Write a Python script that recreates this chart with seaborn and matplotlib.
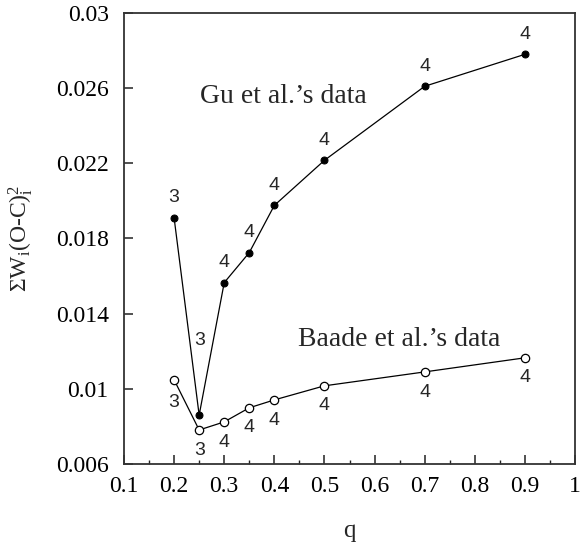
import numpy as np
import matplotlib
matplotlib.use('Agg')
import matplotlib.pyplot as plt
import seaborn as sns
from matplotlib.ticker import MultipleLocator, FuncFormatter

# data
q = [0.2, 0.25, 0.3, 0.35, 0.4, 0.5, 0.7, 0.9]
gu = [0.0191, 0.0086, 0.01565, 0.01725, 0.01976, 0.02216, 0.0261, 0.0278]
baade = [0.01048, 0.00781, 0.00824, 0.00899, 0.00941, 0.01016, 0.0109, 0.01165]
gu_n = ['3', '3', '4', '4', '4', '4', '4', '4']
baade_n = ['3', '3', '4', '4', '4', '4', '4', '4']
yticks = [0.006, 0.01, 0.014, 0.018, 0.022, 0.026, 0.03]

sns.set_style('ticks')
plt.rcParams['font.family'] = ['Liberation Serif', 'DejaVu Serif']
plt.rcParams['mathtext.default'] = 'regular'

fig = plt.figure(figsize=(5.81, 5.46), dpi=100)
ax = fig.add_axes([0.2134, 0.1502, 0.7763, 0.826])

sns.lineplot(x=q, y=gu, ax=ax, color='black', lw=0.9, marker='o',
             markersize=5, markerfacecolor='black', markeredgecolor='black')
sns.lineplot(x=q, y=baade, ax=ax, color='black', lw=0.9, marker='o',
             markersize=6, markerfacecolor='white', markeredgecolor='black',
             markeredgewidth=0.9)

# number labels next to the points
for i, (x, y, n) in enumerate(zip(q, gu, gu_n)):
    if i == 1:
        # this one sits between the two lines
        ax.text(x, 0.01256, n, ha='center', va='center', fontsize=14,
                family='Liberation Sans')
        continue
    ax.annotate(n, (x, y), xytext=(0, 14.5), textcoords='offset points',
                ha='center', va='center', fontsize=14, family='Liberation Sans')
for i, (x, y, n) in enumerate(zip(q, baade, baade_n)):
    dy = -16.5 if i == 0 else -14.5
    ax.annotate(n, (x, y), xytext=(0, dy), textcoords='offset points',
                ha='center', va='center', fontsize=14, family='Liberation Sans')

ax.text(0.2517, 0.0252, 'Gu et al.’s data', fontsize=20, ha='left', va='baseline')
ax.text(0.4473, 0.01229, 'Baade et al.’s data', fontsize=20, ha='left', va='baseline')

ax.set_xlim(0.1, 1.0)
ax.set_ylim(0.006, 0.03)
ax.xaxis.set_major_locator(MultipleLocator(0.1))
ax.xaxis.set_minor_locator(MultipleLocator(0.05))
ax.set_yticks(yticks)
fmt = FuncFormatter(lambda v, p: f'{round(v, 4):g}')
ax.xaxis.set_major_formatter(fmt)
ax.yaxis.set_major_formatter(fmt)

ax.tick_params(which='major', direction='in', length=6.5, width=1.1,
               labelsize=17, pad=9, colors='#222222', labelcolor='black')
ax.tick_params(which='minor', direction='in', length=3.2, width=1.0, colors='#222222')
ax.tick_params(axis='y', which='major', pad=11)
for s in ax.spines.values():
    s.set_linewidth(1.3)
    s.set_color('#333333')

ax.set_xlabel('q', fontsize=18)
ax.set_ylabel('ΣW$_i$(O-C)$_i^2$', fontsize=17)
ax.yaxis.set_label_coords(-0.197, 0.5)
ax.xaxis.set_label_coords(0.5, -0.125)

fig.savefig('out.png', dpi=100)
